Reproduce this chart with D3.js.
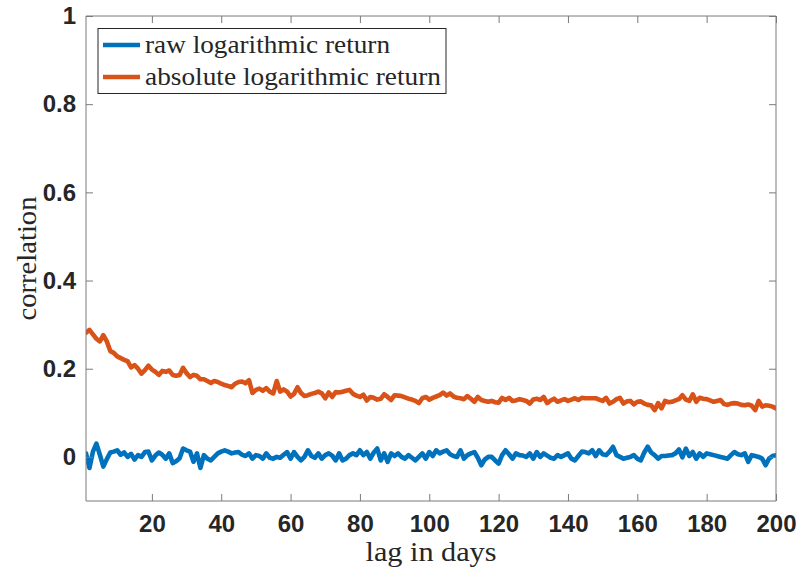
<!DOCTYPE html>
<html>
<head>
<meta charset="utf-8">
<script src="https://cdn.jsdelivr.net/npm/d3@7"></script>
<style>
  html, body { margin: 0; padding: 0; background: #fff; }
  svg { display: block; }
</style>
</head>
<body>
<svg id="chart" width="798" height="569"></svg>
<script>
// ---- data ----
const lags = d3.range(1, 201);

const rawReturn = [
  0.008, -0.025, 0.012, 0.030, 0.005, -0.022, -0.005, 0.010, 0.012, 0.015,
  0.005, 0.010, 0.000, 0.007, -0.006, 0.004, 0.000, 0.011, 0.012, -0.008,
  0.003, 0.010, 0.005, -0.004, 0.008, -0.014, -0.010, -0.003, 0.019, 0.015,
  0.012, -0.011, 0.008, -0.025, 0.004, -0.004, -0.008, 0.000, 0.008, 0.012,
  0.015, 0.012, 0.008, 0.010, 0.011, 0.005, 0.002, 0.008, -0.004, 0.004,
  0.002, -0.004, 0.008, -0.002, -0.004, 0.000, -0.002, 0.005, 0.011, -0.004,
  0.011, 0.000, -0.008, 0.000, 0.015, 0.002, -0.002, 0.008, -0.004, 0.004,
  0.008, 0.003, -0.008, 0.008, -0.008, -0.004, 0.004, 0.008, 0.004, 0.015,
  0.004, 0.011, -0.004, 0.010, 0.019, -0.008, 0.008, -0.011, 0.008, 0.002,
  0.008, 0.000, -0.004, 0.004, -0.002, -0.008, 0.000, 0.008, -0.004, 0.011,
  0.002, 0.015, 0.008, 0.012, 0.015, 0.006, 0.002, 0.000, 0.015, -0.004,
  0.004, 0.008, 0.011, -0.002, -0.019, -0.006, 0.000, 0.000, -0.008, -0.015,
  0.004, 0.015, 0.006, -0.004, 0.008, 0.004, 0.003, 0.000, 0.008, -0.004,
  0.011, 0.000, 0.008, 0.003, -0.002, -0.004, 0.004, 0.000, 0.004, 0.008,
  -0.004, -0.008, 0.002, 0.012, 0.011, 0.008, 0.015, 0.002, 0.015, 0.006,
  0.004, 0.012, 0.023, 0.004, 0.000, -0.004, -0.002, 0.000, 0.004, -0.004,
  -0.008, 0.010, 0.023, 0.010, 0.004, -0.004, 0.002, 0.002, 0.003, 0.004,
  0.008, 0.017, -0.001, 0.019, 0.002, 0.011, -0.004, 0.008, 0.000, 0.008,
  0.006, 0.004, 0.002, 0.000, -0.002, -0.004, 0.004, 0.011, 0.006, 0.004,
  0.008, -0.011, 0.004, 0.002, 0.000, -0.004, -0.019, -0.004, 0.002, 0.004
];

const absReturn = [
  0.282, 0.288, 0.278, 0.268, 0.262, 0.276, 0.262, 0.240, 0.236, 0.228,
  0.224, 0.220, 0.217, 0.203, 0.208, 0.200, 0.189, 0.197, 0.207, 0.198,
  0.193, 0.186, 0.195, 0.193, 0.196, 0.186, 0.184, 0.186, 0.202, 0.190,
  0.181, 0.186, 0.184, 0.176, 0.176, 0.172, 0.168, 0.172, 0.170, 0.166,
  0.163, 0.161, 0.158, 0.166, 0.170, 0.171, 0.167, 0.174, 0.145, 0.152,
  0.155, 0.150, 0.156, 0.148, 0.144, 0.172, 0.148, 0.153, 0.148, 0.137,
  0.143, 0.158, 0.145, 0.138, 0.140, 0.143, 0.145, 0.148, 0.144, 0.133,
  0.146, 0.136, 0.147, 0.146, 0.148, 0.150, 0.152, 0.143, 0.139, 0.136,
  0.141, 0.128, 0.136, 0.134, 0.130, 0.132, 0.142, 0.136, 0.129, 0.140,
  0.139, 0.138, 0.135, 0.132, 0.130, 0.127, 0.122, 0.133, 0.136, 0.130,
  0.134, 0.137, 0.140, 0.146, 0.139, 0.144, 0.137, 0.134, 0.133, 0.131,
  0.138, 0.132, 0.125, 0.136, 0.129, 0.127, 0.125, 0.127, 0.124, 0.123,
  0.134, 0.129, 0.134, 0.127, 0.128, 0.131, 0.129, 0.127, 0.121, 0.130,
  0.132, 0.129, 0.136, 0.122, 0.128, 0.132, 0.125, 0.128, 0.131, 0.127,
  0.130, 0.133, 0.129, 0.134, 0.133, 0.133, 0.133, 0.133, 0.130, 0.127,
  0.134, 0.121, 0.125, 0.131, 0.134, 0.121, 0.126, 0.127, 0.119, 0.125,
  0.126, 0.121, 0.118, 0.117, 0.106, 0.122, 0.110, 0.127, 0.124, 0.125,
  0.128, 0.131, 0.140, 0.130, 0.127, 0.142, 0.125, 0.134, 0.132, 0.131,
  0.128, 0.125, 0.127, 0.129, 0.120, 0.118, 0.121, 0.122, 0.121, 0.118,
  0.117, 0.119, 0.116, 0.106, 0.127, 0.114, 0.117, 0.116, 0.114, 0.110
];

const xTicks = [20, 40, 60, 80, 100, 120, 140, 160, 180, 200];
const yTicks = [0, 0.2, 0.4, 0.6, 0.8, 1];
const seriesNames = ["raw logarithmic return", "absolute logarithmic return"];
const seriesColors = ["#0072BD", "#D95319"];
const xLabel = "lag in days";
const yLabel = "correlation";

// ---- layout ----
const L = 86, R = 776, T = 16, B = 501;
const svg = d3.select("#chart");
const x = d3.scaleLinear().domain([1, 200]).range([L, R]);
const y = d3.scaleLinear().domain([-0.1, 1]).range([B, T]);

const axisColor = "#7a7a7a";
const textColor = "#262626";
const tickLen = 7;

svg.append("clipPath").attr("id", "clip")
  .append("rect").attr("x", L).attr("y", T).attr("width", R - L).attr("height", B - T);

const line = d3.line().x((d, i) => x(lags[i])).y(d => y(d));
const g = svg.append("g").attr("clip-path", "url(#clip)");
[rawReturn, absReturn].forEach((s, k) => {
  g.append("path").datum(s).attr("d", line)
    .attr("fill", "none").attr("stroke", seriesColors[k])
    .attr("stroke-width", 4.6).attr("stroke-linejoin", "round").attr("stroke-linecap", "round");
});

// axes
const fontTick = "'Liberation Sans', Arial, Helvetica, sans-serif";
const xAxisB = d3.axisBottom(x).tickValues(xTicks).tickSize(-tickLen).tickPadding(14).tickFormat(d3.format("d"));
const xAxisT = d3.axisTop(x).tickValues(xTicks).tickSize(-tickLen).tickFormat("");
const yAxisL = d3.axisLeft(y).tickValues(yTicks).tickSize(-tickLen).tickPadding(10).tickFormat(d => d === 0 ? "0" : (d === 1 ? "1" : d3.format(".1f")(d)));
const yAxisR = d3.axisRight(y).tickValues(yTicks).tickSize(-tickLen).tickFormat("");

function styleAxis(sel) {
  sel.selectAll("path.domain").attr("stroke", axisColor).attr("stroke-width", 1);
  sel.selectAll(".tick line").attr("stroke", axisColor).attr("stroke-width", 1);
  sel.selectAll(".tick text").attr("fill", textColor)
    .attr("font-family", fontTick).attr("font-weight", "bold").attr("font-size", 24);
}
svg.append("g").attr("transform", `translate(0,${B})`).call(xAxisB).call(styleAxis)
  .selectAll("path.domain").attr("d", `M${L},0H${R}`);
svg.append("g").attr("transform", `translate(0,${T})`).call(xAxisT).call(styleAxis)
  .selectAll("path.domain").attr("d", `M${L},0H${R}`);
svg.append("g").attr("transform", `translate(${L},0)`).call(yAxisL).call(styleAxis)
  .selectAll("path.domain").attr("d", `M0,${T}V${B}`);
svg.append("g").attr("transform", `translate(${R},0)`).call(yAxisR).call(styleAxis)
  .selectAll("path.domain").attr("d", `M0,${T}V${B}`);

// axis labels
const fontSerif = "'Liberation Serif', 'Times New Roman', serif";
svg.append("text").attr("x", 431).attr("y", 561).attr("text-anchor", "middle")
  .attr("font-family", fontSerif).attr("font-size", 28).attr("fill", textColor)
  .attr("textLength", 131).attr("lengthAdjust", "spacingAndGlyphs")
  .text(xLabel);
svg.append("text").attr("transform", `translate(36,${(T + B) / 2}) rotate(-90)`)
  .attr("text-anchor", "middle")
  .attr("font-family", fontSerif).attr("font-size", 28).attr("fill", textColor)
  .attr("textLength", 124).attr("lengthAdjust", "spacingAndGlyphs")
  .text(yLabel);

// legend
const lg = svg.append("g");
lg.append("rect").attr("x", 98).attr("y", 28.5).attr("width", 348).attr("height", 65)
  .attr("fill", "#fff").attr("stroke", "#262626").attr("stroke-width", 1);
const legendRowY = [45, 77];
const legendTextLen = [245, 296];
seriesNames.forEach((name, k) => {
  lg.append("line").attr("x1", 103).attr("x2", 140)
    .attr("y1", legendRowY[k]).attr("y2", legendRowY[k])
    .attr("stroke", seriesColors[k]).attr("stroke-width", 4.6);
  lg.append("text").attr("x", 145).attr("y", legendRowY[k] + 8)
    .attr("font-family", fontSerif).attr("font-size", 25).attr("fill", textColor)
    .attr("textLength", legendTextLen[k]).attr("lengthAdjust", "spacingAndGlyphs")
    .text(name);
});
</script>
</body>
</html>
